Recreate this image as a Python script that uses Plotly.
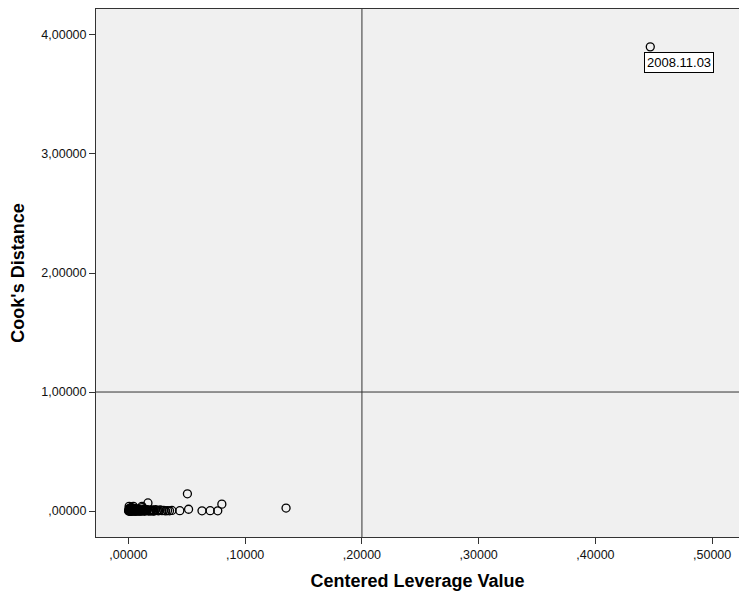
import plotly.graph_objects as go

# Centered leverage values (x) and Cook's distances (y)
lev = [0.0003, 0.0006, 0.0009, 0.0012, 0.0015, 0.0018, 0.0021, 0.0024, 0.0027, 0.0030,
       0.0034, 0.0038, 0.0042, 0.0046, 0.0050, 0.0054, 0.0058, 0.0062, 0.0066, 0.0070,
       0.0075, 0.0080, 0.0085, 0.0090, 0.0095, 0.0100, 0.0105, 0.0110, 0.0116, 0.0122,
       0.0128, 0.0134, 0.0140, 0.0147, 0.0154, 0.0161, 0.0167, 0.0175, 0.0183, 0.0191,
       0.0200, 0.0210, 0.0220, 0.0232, 0.0245, 0.0258, 0.0272, 0.0287, 0.0302, 0.0318,
       0.0335, 0.0352, 0.0372, 0.0440, 0.0505, 0.0515, 0.0630, 0.0700, 0.0765, 0.0800,
       0.1350, 0.4470, 0.0004, 0.0013, 0.0025, 0.0048, 0.0072, 0.0118, 0.0020, 0.0060,
       0.0001, 0.0007, 0.0011, 0.0016, 0.0022, 0.0031, 0.0036, 0.0044, 0.0052, 0.0064,
       0.0078, 0.0088, 0.0098, 0.0108, 0.0125, 0.0138, 0.0150, 0.0172, 0.0195, 0.0215]
cook = [0.004, 0.040, 0.010, 0.002, 0.015, 0.006, 0.001, 0.012, 0.003, 0.008,
        0.020, 0.005, 0.040, 0.002, 0.011, 0.004, 0.009, 0.001, 0.014, 0.006,
        0.003, 0.010, 0.002, 0.007, 0.012, 0.004, 0.001, 0.009, 0.040, 0.003,
        0.006, 0.015, 0.002, 0.008, 0.004, 0.011, 0.068, 0.003, 0.007, 0.002,
        0.010, 0.005, 0.001, 0.012, 0.004, 0.002, 0.009, 0.003, 0.006, 0.001,
        0.004, 0.002, 0.005, 0.003, 0.145, 0.015, 0.002, 0.003, 0.002, 0.058,
        0.025, 3.900, 0.018, 0.025, 0.030, 0.022, 0.019, 0.028, 0.000, 0.000,
        0.000, 0.001, 0.000, 0.002, 0.000, 0.001, 0.000, 0.002, 0.001, 0.000,
        0.001, 0.000, 0.002, 0.000, 0.001, 0.000, 0.003, 0.000, 0.001, 0.000]

outlier_label = "2008.11.03"
outlier_x = 0.4470
outlier_y = 3.900

x_tickvals = [0.0, 0.1, 0.2, 0.3, 0.4, 0.5]
x_ticktext = [",00000", ",10000", ",20000", ",30000", ",40000", ",50000"]
y_tickvals = [0, 1, 2, 3, 4]
y_ticktext = [",00000", "1,00000", "2,00000", "3,00000", "4,00000"]

ref_x = 0.2
ref_y = 1.0

fig = go.Figure()
fig.add_trace(go.Scatter(
    x=lev, y=cook, mode="markers",
    marker=dict(symbol="circle-open", size=8, color="#000000", line=dict(width=1.3, color="#000000")),
    showlegend=False, hoverinfo="x+y",
))

fig.add_shape(type="line", xref="x", yref="paper", x0=ref_x, x1=ref_x, y0=0, y1=1,
              line=dict(color="#333333", width=1))
fig.add_shape(type="line", xref="paper", yref="y", x0=0, x1=1, y0=ref_y, y1=ref_y,
              line=dict(color="#333333", width=1))

fig.add_annotation(x=outlier_x, y=outlier_y, text=outlier_label, showarrow=False,
                   xanchor="left", yanchor="top", xshift=-6, yshift=-5,
                   font=dict(family="Liberation Sans, Arial, sans-serif", size=13, color="#000000"),
                   bgcolor="#ffffff", bordercolor="#000000", borderwidth=1, borderpad=2)

fig.update_layout(
    width=739, height=591,
    margin=dict(l=96, r=0, t=9, b=54),
    paper_bgcolor="#ffffff", plot_bgcolor="#f0f0f0",
    font=dict(family="Liberation Sans, Arial, sans-serif", size=12.5, color="#111111"),
    xaxis=dict(range=[-0.0278, 0.523], tickvals=x_tickvals, ticktext=x_ticktext,
               showgrid=False, zeroline=False, showline=True, linecolor="#333333", linewidth=1,
               mirror=True, ticks="outside", ticklen=6, tickcolor="#333333",
               title=dict(text="<b>Centered Leverage Value</b>", font=dict(size=18, color="#000000"), standoff=13)),
    yaxis=dict(range=[-0.218, 4.218], tickvals=y_tickvals, ticktext=y_ticktext,
               showgrid=False, zeroline=False, showline=True, linecolor="#333333", linewidth=1,
               mirror=True, ticks="outside", ticklen=6, tickcolor="#333333",
               title=dict(text="<b>Cook's Distance</b>", font=dict(size=18, color="#000000"), standoff=12)),
)

fig.write_html("out.html", config={"displayModeBar": False},
               post_script="document.body.style.margin='0';document.body.style.padding='0';document.body.style.overflow='hidden';")
